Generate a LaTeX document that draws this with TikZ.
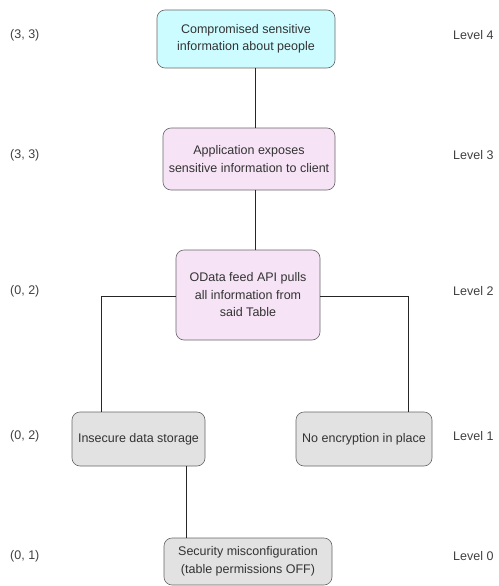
\documentclass[tikz,border=0pt]{standalone}
\usepackage{fontspec}
\setmainfont{Liberation Sans}
\begin{document}
\begin{tikzpicture}[x=1pt,y=-1pt,
  box/.style={draw=black!60, rounded corners=8pt, line width=0.6pt, align=center, text=black!80, font=\fontsize{12.5}{17.5}\selectfont, inner sep=0pt},
  cyanbox/.style={box, fill={rgb,255:red,204;green,252;blue,255}},
  pinkbox/.style={box, fill={rgb,255:red,246;green,228;blue,246}},
  greybox/.style={box, fill={rgb,255:red,226;green,226;blue,226}},
  conn/.style={draw=black!85, line width=0.7pt},
  lab/.style={text=black!75, font=\fontsize{12.5}{15}\selectfont, inner sep=0pt, anchor=west}]
\useasboundingbox (0,0) rectangle (498,586);
\node[cyanbox, minimum width=178pt, minimum height=58pt] (n4) at (246,39) {Compromised sensitive\\information about people};
\node[pinkbox, minimum width=172pt, minimum height=62pt] (n3) at (249,159) {Application exposes\\sensitive information to client};
\node[pinkbox, minimum width=144pt, minimum height=90pt] (n2) at (248,295) {OData feed API pulls\\all information from\\said Table};
\node[greybox, minimum width=133pt, minimum height=54pt] (n1a) at (138.5,439) {Insecure data storage};
\node[greybox, minimum width=136pt, minimum height=54pt] (n1b) at (364,439) {No encryption in place};
\node[greybox, minimum width=168pt, minimum height=47pt] (n0) at (248,561.5) {Security misconfiguration\\(table permissions OFF)};
\coordinate (jl) at (101,296);
\coordinate (jr) at (408,296);
\draw[conn] ([xshift=9pt]n4.south) -- ([xshift=6pt]n3.north);
\draw[conn] ([xshift=6pt]n3.south) -- ([xshift=7pt]n2.north);
\draw[conn] (n2.west |- jl) -- (jl) -- (jl |- n1a.north);
\draw[conn] (n2.east |- jr) -- (jr) -- (jr |- n1b.north);
\draw[conn] ([xshift=47.5pt]n1a.south) -- ([xshift=47.5pt]n1a.south |- n0.north);
\node[lab] (l4) at (10,35) {(3, 3)};
\node[lab] (l3) at (10,155) {(3, 3)};
\node[lab] (l2) at (10,291) {(0, 2)};
\node[lab] (l1) at (10,436) {(0, 2)};
\node[lab] (l0) at (10,556) {(0, 1)};
\node[lab] (v4) at (453,35) {Level 4};
\node[lab] (v3) at (453,155) {Level 3};
\node[lab] (v2) at (453,291) {Level 2};
\node[lab] (v1) at (453,436) {Level 1};
\node[lab] (v0) at (453,556) {Level 0};
\end{tikzpicture}
\end{document}
